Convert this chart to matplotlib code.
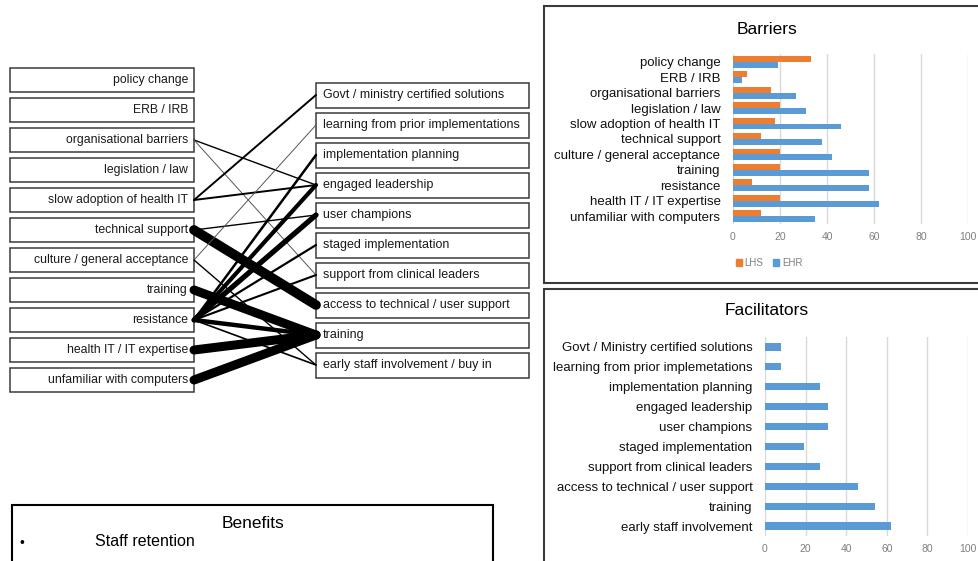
import numpy as np
import matplotlib
matplotlib.use('Agg')
import matplotlib.pyplot as plt
from matplotlib.patches import Rectangle, Patch

plt.rcParams['font.family'] = ['Liberation Sans', 'DejaVu Sans']

# boxes of the mapping diagram
barrier_boxes = ['policy change', 'ERB / IRB', 'organisational barriers', 'legislation / law',
                 'slow adoption of health IT', 'technical support', 'culture / general acceptance',
                 'training', 'resistance', 'health IT / IT expertise', 'unfamiliar with computers']
facilitator_boxes = ['Govt / ministry certified solutions', 'learning from prior implementations',
                     'implementation planning', 'engaged leadership', 'user champions',
                     'staged implementation', 'support from clinical leaders',
                     'access to technical / user support', 'training',
                     'early staff involvement / buy in']

# (barrier idx, facilitator idx, link strength)
links = [(2, 3, 1.0), (2, 6, 0.7), (4, 0, 1.4), (4, 3, 1.4), (5, 4, 1.0), (5, 7, 7.0),
         (6, 1, 0.7), (6, 9, 1.0), (7, 8, 6.5), (8, 2, 1.8), (8, 3, 3.0), (8, 4, 3.8),
         (8, 5, 1.6), (8, 6, 1.5), (8, 8, 3.2), (8, 9, 1.2), (9, 8, 6.5), (10, 8, 6.5)]

# barriers chart
barrier_cats = barrier_boxes
lhs = [33, 6, 16, 20, 18, 12, 20, 20, 8, 20, 12]
ehr = [19, 4, 27, 31, 46, 38, 42, 58, 58, 62, 35]

# facilitators chart
facil_cats = ['Govt / Ministry certified solutions', 'learning from prior implemetations',
              'implementation planning', 'engaged leadership', 'user champions',
              'staged implementation', 'support from clinical leaders',
              'access to technical / user support', 'training', 'early staff involvement']
facil_vals = [8, 8, 27, 31, 31, 19, 27, 46, 54, 62]

ORANGE = '#ED7D31'
BLUE = '#5B9BD5'

W, H = 979, 561
fig = plt.figure(figsize=(W / 100, H / 100), dpi=100)
bg = fig.add_axes([0, 0, 1, 1])
bg.set_xlim(0, W)
bg.set_ylim(H, 0)
bg.axis('off')


def px_axes(x0, y0, x1, y1):
    return fig.add_axes([x0 / W, 1 - y1 / H, (x1 - x0) / W, (y1 - y0) / H])


# left / right boxes
for i, name in enumerate(barrier_boxes):
    yc = 80 + 30 * i
    bg.add_patch(Rectangle((10, yc - 12), 184, 24, facecolor='white', edgecolor='#3a3a3a', lw=1.1, zorder=1))
    bg.text(188, yc, name, ha='right', va='center', fontsize=8.8, color='#1a1a1a', zorder=2)

for j, name in enumerate(facilitator_boxes):
    yc = 95 + 30 * j
    bg.add_patch(Rectangle((316, yc - 12.5), 213, 25, facecolor='white', edgecolor='#3a3a3a', lw=1.1, zorder=1))
    bg.text(323, yc, name, ha='left', va='center', fontsize=9, color='#1a1a1a', zorder=2)

for i, j, w in links:
    col = '#555555' if w < 0.9 else 'black'
    bg.plot([194, 316], [80 + 30 * i, 95 + 30 * j], color=col, lw=w,
            solid_capstyle='round', zorder=3)

# benefits box
bg.add_patch(Rectangle((12, 505), 481, 90, facecolor='white', edgecolor='black', lw=1.5))
bg.text(253, 523, 'Benefits', ha='center', va='center', fontsize=12.5)
bg.text(22, 543, '•', ha='center', va='center', fontsize=10)
bg.text(95, 542, 'Staff retention', ha='left', va='center', fontsize=11.5)

# panel frames
bg.add_patch(Rectangle((544, 6), 460, 277, facecolor='white', edgecolor='#3a3a3a', lw=1.5))
bg.add_patch(Rectangle((544, 289), 460, 300, facecolor='white', edgecolor='#3a3a3a', lw=1.5))
bg.text(767, 29, 'Barriers', ha='center', va='center', fontsize=12.5)
bg.text(767, 310, 'Facilitators', ha='center', va='center', fontsize=12.5)


def style(ax):
    ax.set_xlim(0, 100)
    ax.set_xticks(np.arange(0, 101, 20))
    ax.grid(axis='x', color='#d9d9d9', lw=1)
    ax.set_axisbelow(True)
    for s in ax.spines.values():
        s.set_visible(False)
    ax.tick_params(axis='x', length=0, pad=6, labelsize=7.5, labelcolor='#7f7f7f')
    ax.tick_params(axis='y', length=0, pad=9, labelsize=9.5, labelcolor='#111111')
    ax.patch.set_alpha(0)


# barriers chart
axb = px_axes(733, 54, 968, 224)
y = np.arange(len(barrier_cats))
axb.barh(y - 0.19, lhs, height=0.38, color=ORANGE)
axb.barh(y + 0.19, ehr, height=0.38, color=BLUE)
axb.set_yticks(y)
axb.set_yticklabels(barrier_cats)
axb.set_ylim(len(barrier_cats) - 0.5, -0.5)
style(axb)

fig.legend(handles=[Patch(color=ORANGE, label='LHS'), Patch(color=BLUE, label='EHR')],
           loc='center', bbox_to_anchor=(769 / W, 1 - 263 / H), ncol=2, frameon=False,
           fontsize=7, handlelength=0.6, handleheight=0.6, columnspacing=1.0,
           handletextpad=0.3, labelcolor='#7f7f7f')

# facilitators chart
axf = px_axes(765, 337, 968, 536)
yf = np.arange(len(facil_cats))
axf.barh(yf, facil_vals, height=0.36, color=BLUE)
axf.set_yticks(yf)
axf.set_yticklabels(facil_cats)
axf.set_ylim(len(facil_cats) - 0.5, -0.5)
style(axf)

fig.savefig('out.png', dpi=100)
